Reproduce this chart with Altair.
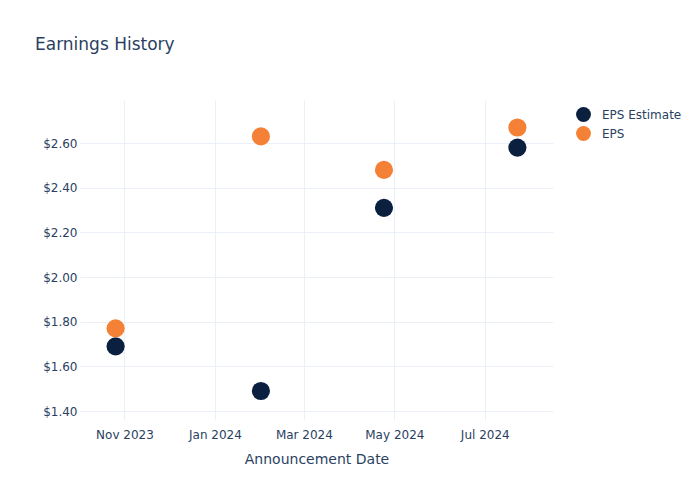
import altair as alt
import pandas as pd

dates = ["2023-10-26", "2024-02-01", "2024-04-24", "2024-07-23"]
eps_estimate = [1.69, 1.49, 2.31, 2.58]
eps_actual = [1.77, 2.63, 2.48, 2.67]
series_names = ["EPS Estimate", "EPS"]
colors = ["#0B1F3F", "#F58137"]

rows = []
for d, v in zip(dates, eps_estimate):
    rows.append({"date": d, "value": v, "series": series_names[0]})
for d, v in zip(dates, eps_actual):
    rows.append({"date": d, "value": v, "series": series_names[1]})
df = pd.DataFrame(rows)

FONT = "DejaVu Sans"
TXT = "#2a3f5f"
GRID = "#EBF0F8"

x_ticks = [alt.DateTime(year=y, month=m, date=1, utc=True)
           for y, m in [(2023, 11), (2024, 1), (2024, 3), (2024, 5), (2024, 7)]]

chart = alt.Chart(df).mark_circle(size=330, opacity=1).encode(
    x=alt.X("date:T",
            scale=alt.Scale(type="utc",
                            domain=[alt.DateTime(year=2023, month=10, date=2, utc=True),
                                    alt.DateTime(year=2024, month=8, date=16, utc=True)]),
            axis=alt.Axis(title="Announcement Date", values=x_ticks,
                          labelExpr="utcFormat(datum.value, '%b %Y')",
                          grid=True, gridColor=GRID, domain=False, ticks=False,
                          labelPadding=9, labelFontSize=12, labelColor=TXT, labelFont=FONT,
                          titleFontSize=14, titleColor=TXT, titleFont=FONT,
                          titleFontWeight="normal", titlePadding=12)),
    y=alt.Y("value:Q",
            scale=alt.Scale(domain=[1.36, 2.793], nice=False, zero=False),
            axis=alt.Axis(title=None, values=[1.4, 1.6, 1.8, 2.0, 2.2, 2.4, 2.6],
                          format="$.2f", grid=True, gridColor=GRID, domain=False, ticks=False,
                          labelPadding=3, labelFontSize=12, labelColor=TXT, labelFont=FONT)),
    color=alt.Color("series:N",
                    scale=alt.Scale(domain=series_names, range=colors),
                    sort=series_names,
                    legend=alt.Legend(title=None, orient="none", legendX=495, legendY=6,
                                      symbolType="circle", symbolSize=220, symbolOpacity=1,
                                      labelFontSize=12, labelColor=TXT, labelFont=FONT,
                                      rowPadding=3, labelOffset=10)),
    order=alt.Order("series_order:Q"),
).transform_calculate(
    series_order="datum.series == 'EPS' ? 1 : 0"
).properties(
    width=473, height=320,
    title=alt.TitleParams("Earnings History", anchor="start", frame="group", dx=-45, dy=2,
                          fontSize=17, font=FONT, color=TXT, fontWeight="normal", offset=48),
    autosize=alt.AutoSizeParams(type="none"),
    padding={"left": 80, "top": 100, "right": 147, "bottom": 80},
).configure(background="white").configure_view(stroke=None)

chart.save("out.html", embed_options={"renderer": "svg", "actions": False})
